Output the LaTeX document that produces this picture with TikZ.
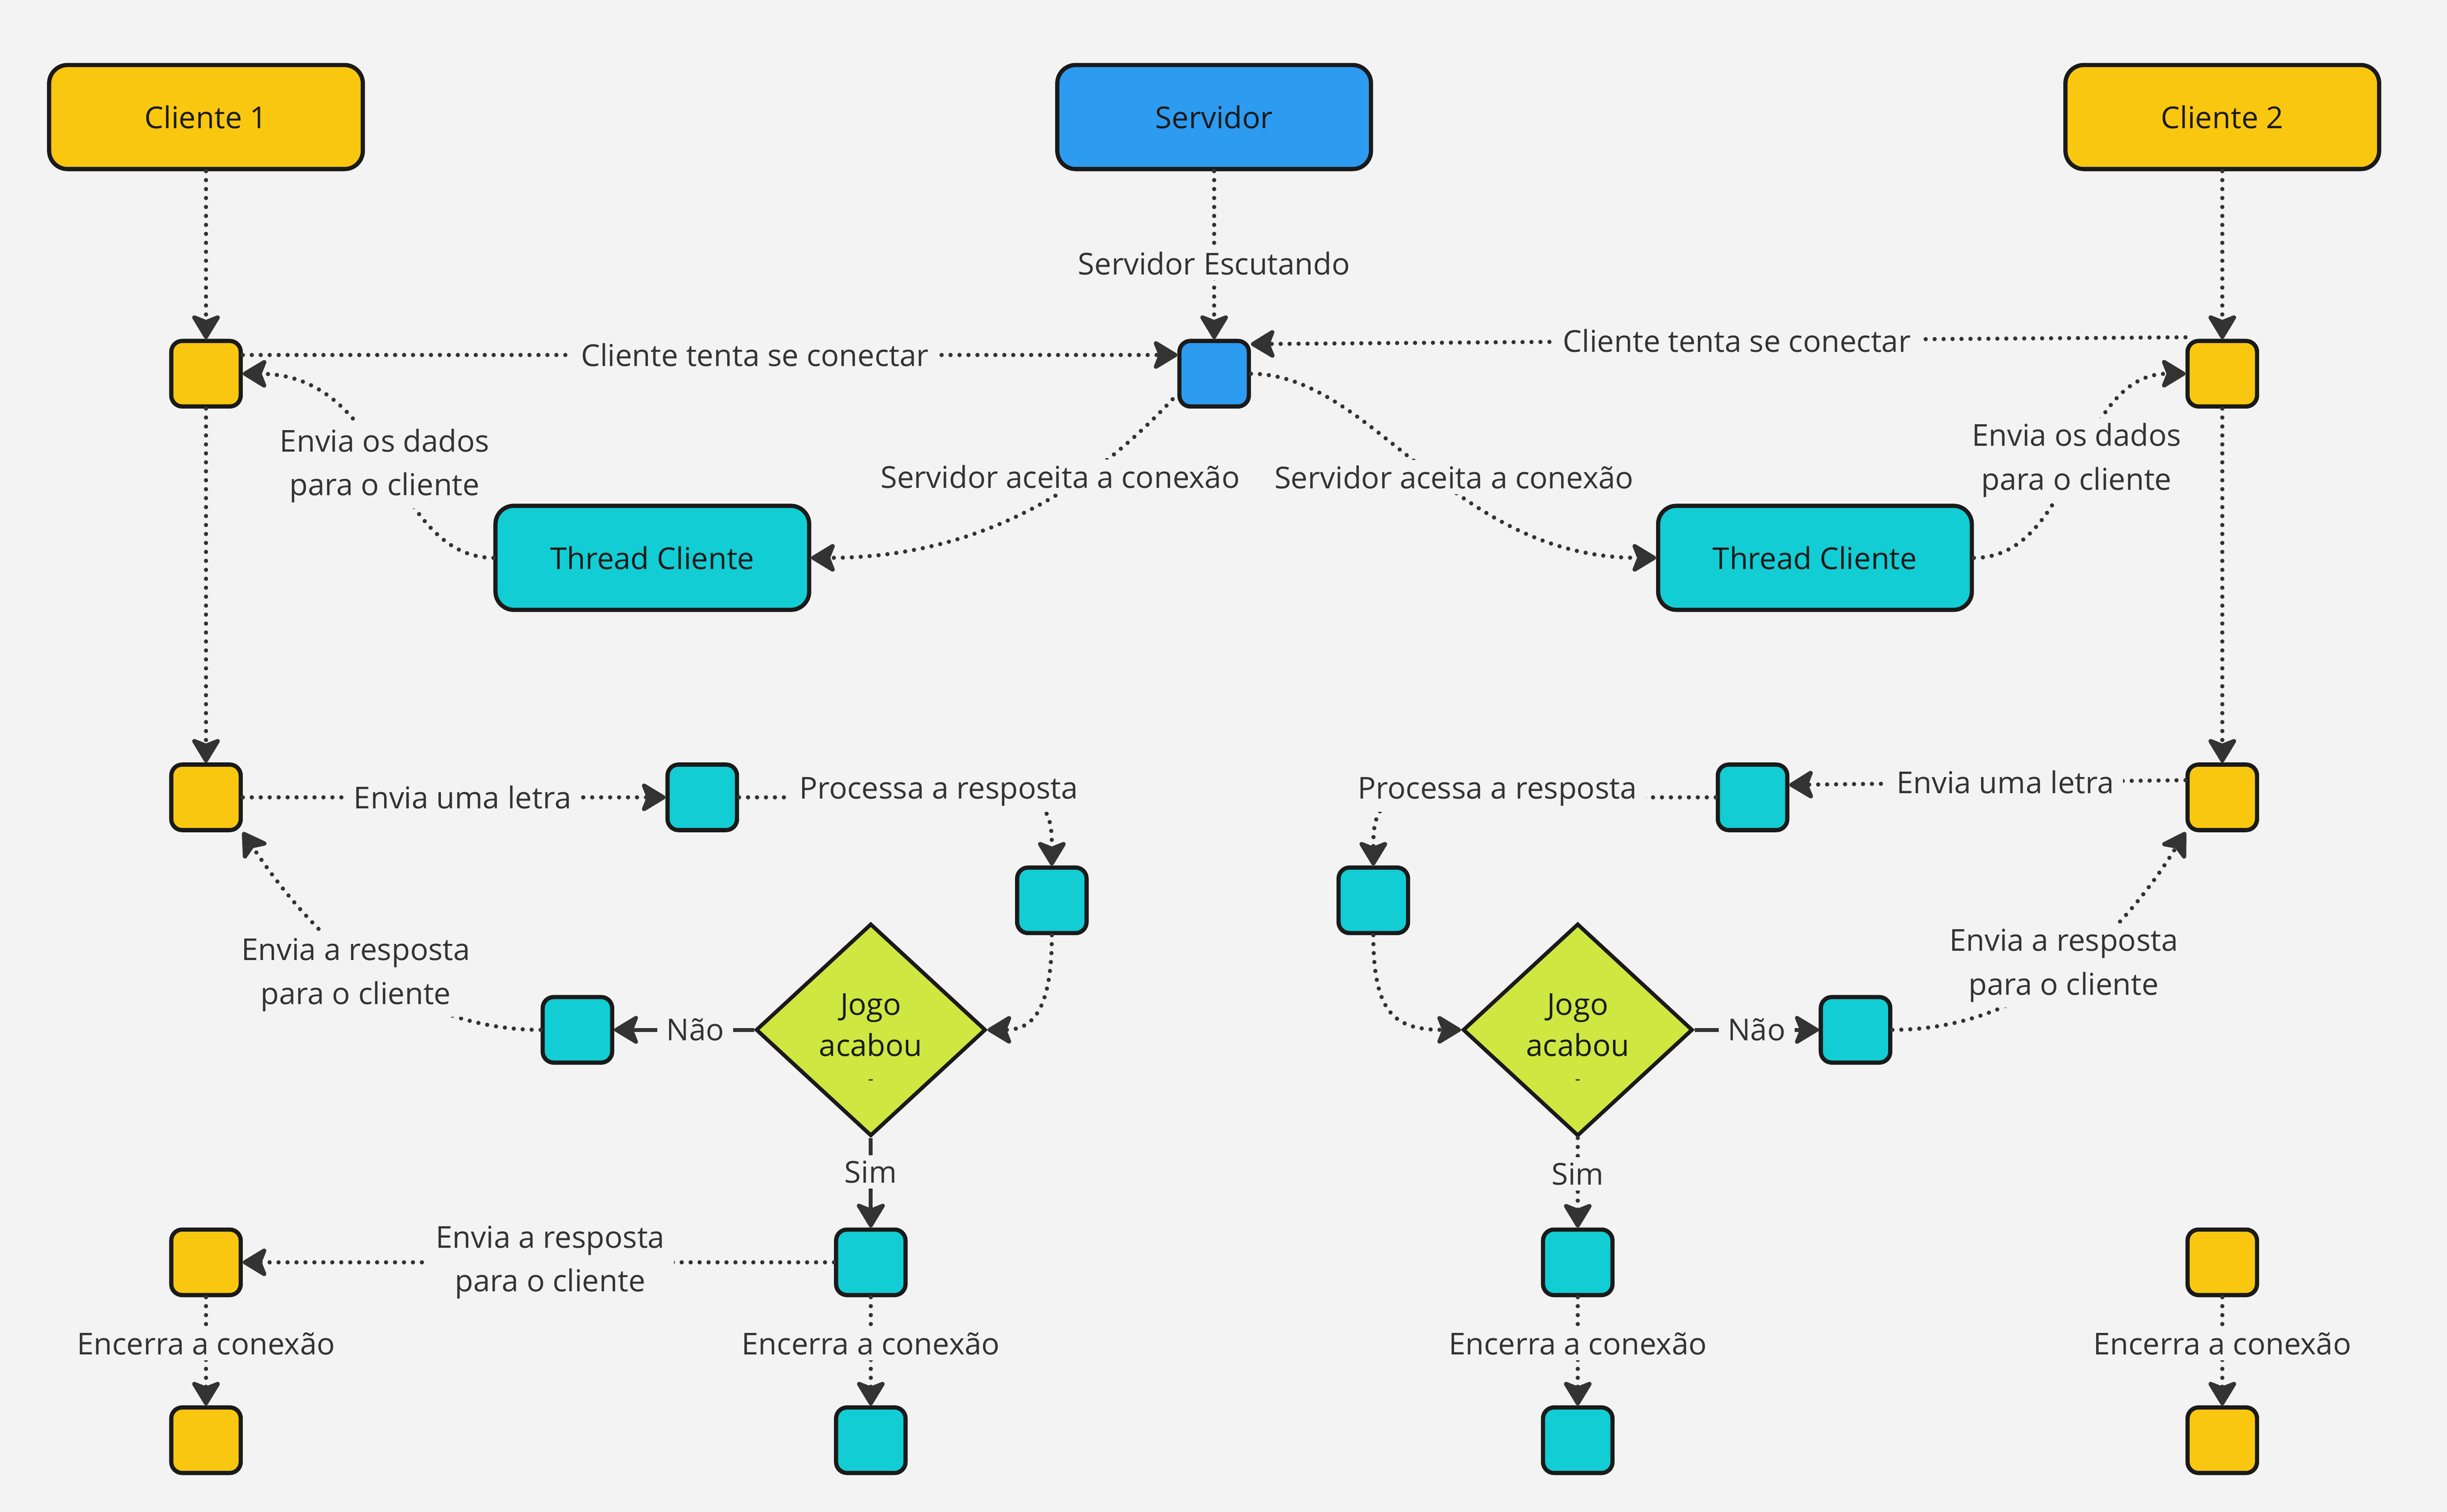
\documentclass[tikz,border=0pt]{standalone}
\usepackage{fontspec}
\setmainfont{Open Sans}
\usetikzlibrary{arrows.meta,shapes.geometric,calc}
\definecolor{bg}{HTML}{F3F3F3}
\definecolor{cyel}{HTML}{FAC710}
\definecolor{cblue}{HTML}{2D9BF0}
\definecolor{ccyan}{HTML}{12CDD4}
\definecolor{clime}{HTML}{CEE741}
\definecolor{bord}{HTML}{1A1A1A}
\definecolor{ink}{HTML}{333333}
\begin{document}
\begin{tikzpicture}[x=0.3mm,y=-0.3mm,
  font=\fontsize{16.5}{24}\selectfont,
  bigbox/.style={draw=bord, line width=2.3pt, rounded corners=10pt, minimum width=60.3mm, minimum height=20mm, inner sep=0pt, text=bord},
  sq/.style={draw=bord, line width=2.3pt, rounded corners=6pt, minimum width=13.35mm, minimum height=12.6mm, inner sep=0pt},
  dia/.style={diamond, draw=bord, line width=2.1pt, fill=clime, minimum width=44.2mm, minimum height=36.9mm, inner sep=0pt, align=center, text=bord, font=\fontsize{16.5}{22.5}\selectfont},
  dotl/.style={draw=ink, line width=2.35pt, line cap=round, dash pattern=on 0pt off 4.9pt},
  solidl/.style={draw=ink, line width=2.2pt},
  arr/.style={-{Stealth[length=15pt,width=18pt,inset=3.5pt,round]}},
  lbl/.style={fill=bg, text=ink, inner xsep=5pt, inner ysep=3pt, align=center}
]
\fill[bg] (0,0) rectangle (1568,969);
\useasboundingbox (0,0) rectangle (1568,969);

% nodes
\node[bigbox, fill=cyel] (cli1) at (132,75) {Cliente 1};
\node[bigbox, fill=cblue] (serv) at (778,75) {Servidor};
\node[bigbox, fill=cyel] (cli2) at (1424,75) {Cliente 2};
\node[sq, fill=cyel] (c1a) at (132,239.5) {};
\node[sq, fill=cblue] (srv) at (778,239.5) {};
\node[sq, fill=cyel] (c2a) at (1424,239.5) {};
\node[bigbox, fill=ccyan] (thL) at (418,357.5) {Thread Cliente};
\node[bigbox, fill=ccyan] (thR) at (1163,357.5) {Thread Cliente};
\node[sq, fill=cyel] (c1b) at (132,511) {};
\node[sq, fill=ccyan] (l1) at (450,511) {};
\node[sq, fill=ccyan] (l2) at (674,577) {};
\node[dia] (dL) at (558,660) {\rule{0pt}{21.8pt}Jogo\\acabou\\[-7pt]{\fontsize{9}{10}\selectfont -}};
\node[sq, fill=ccyan] (l3) at (370,660) {};
\node[sq, fill=ccyan] (l4) at (558,809) {};
\node[sq, fill=ccyan] (l5) at (558,923) {};
\node[sq, fill=cyel] (y3) at (132,809) {};
\node[sq, fill=cyel] (y4) at (132,923) {};
\node[sq, fill=cyel] (c2b) at (1424,511) {};
\node[sq, fill=ccyan] (r1) at (1123,511) {};
\node[sq, fill=ccyan] (r2) at (880,577) {};
\node[dia] (dR) at (1011,660) {\rule{0pt}{21.8pt}Jogo\\acabou\\[-7pt]{\fontsize{9}{10}\selectfont -}};
\node[sq, fill=ccyan] (r3) at (1189,660) {};
\node[sq, fill=ccyan] (r4) at (1011,809) {};
\node[sq, fill=ccyan] (r5) at (1011,923) {};
\node[sq, fill=cyel] (y5) at (1424,809) {};
\node[sq, fill=cyel] (y6) at (1424,923) {};

% top connectors
\draw[dotl, arr] (cli1) -- (c1a);
\draw[dotl, arr] (serv) -- node[lbl, pos=0.55]{Servidor Escutando} (srv);
\draw[dotl, arr] (cli2) -- (c2a);
\draw[dotl, arr] ($(c1a.east)+(0,-12)$) -- node[lbl, pos=0.548]{Cliente tenta se conectar} ($(srv.west)+(0,-12)$);
\draw[dotl, arr] ($(c2a.north west)+(0,-1)$) -- node[lbl, pos=0.48]{Cliente tenta se conectar} ($(srv.east)+(0,-19)$);
\draw[dotl, arr] (thL.west) .. controls (250,357) and (250,240) .. node[lbl, pos=0.5]{Envia os dados\\para o cliente} (c1a.east);
\draw[dotl, arr] ($(srv.south west)+(-3,-6)$) .. controls (710,300) and (640,357.5) .. node[lbl, pos=0.36, xshift=-13pt]{Servidor aceita a conexão} (thL.east);
\draw[dotl, arr] (srv.east) .. controls (880,240) and (930,357.5) .. node[lbl, pos=0.56, xshift=5pt, yshift=3pt]{Servidor aceita a conexão} (thR.west);
\draw[dotl, arr] (thR.east) .. controls (1330,357.5) and (1330,239.5) .. node[lbl, pos=0.5, yshift=3pt]{Envia os dados\\para o cliente} (c2a.west);
\draw[dotl, arr] (c1a) -- (c1b);
\draw[dotl, arr] (c2a) -- (c2b);

% left game loop
\draw[dotl, arr] (c1b) -- node[lbl, pos=0.52]{Envia uma letra} (l1);
\draw[dotl, arr] (l1.east) -- node[lbl, pos=0.725, yshift=3pt]{Processa a resposta} (650,511) .. controls (674,511) and (674,530) .. (l2.north);
\draw[dotl, arr] (l2.south) .. controls (674,650) and (660,660) .. (dL.east);
\draw[solidl, arr] (dL.west) -- node[lbl, pos=0.42]{Não} (l3.east);
\draw[dotl, arr] (l3.west) .. controls (260,660) and (200,600) .. node[lbl, pos=0.52, xshift=-3pt, yshift=-5pt]{Envia a resposta\\para o cliente} (c1b.south east);
\draw[solidl, arr] (dL.south) -- node[lbl, pos=0.38]{Sim} (l4.north);
\draw[dotl, arr] (l4.west) -- node[lbl, pos=0.48]{Envia a resposta\\para o cliente} (y3.east);
\draw[dotl, arr] (y3) -- node[lbl, pos=0.43]{Encerra a conexão} (y4);
\draw[dotl, arr] (l4) -- node[lbl, pos=0.43]{Encerra a conexão} (l5);

% right game loop
\draw[dotl, arr] ($(c2b.west)+(0,-11)$) -- node[lbl, pos=0.455]{Envia uma letra} ($(r1.east)+(0,-8)$);
\draw[dotl, arr] (r1.west) -- node[lbl, pos=0.716, yshift=3pt]{Processa a resposta} (904,511) .. controls (880,511) and (880,530) .. (r2.north);
\draw[dotl, arr] (r2.south) .. controls (880,650) and (894,660) .. (dR.west);
\draw[solidl, arr] (dR.east) -- node[lbl, pos=0.5]{Não} (r3.west);
\draw[dotl, arr] (r3.east) .. controls (1299,660) and (1359,600) .. node[lbl, pos=0.52, xshift=-4pt]{Envia a resposta\\para o cliente} (c2b.south west);
\draw[dotl, arr] (dR.south) -- node[lbl, pos=0.4]{Sim} (r4.north);
\draw[dotl, arr] (r4) -- node[lbl, pos=0.43]{Encerra a conexão} (r5);
\draw[dotl, arr] (y5) -- node[lbl, pos=0.43]{Encerra a conexão} (y6);
\end{tikzpicture}
\end{document}
